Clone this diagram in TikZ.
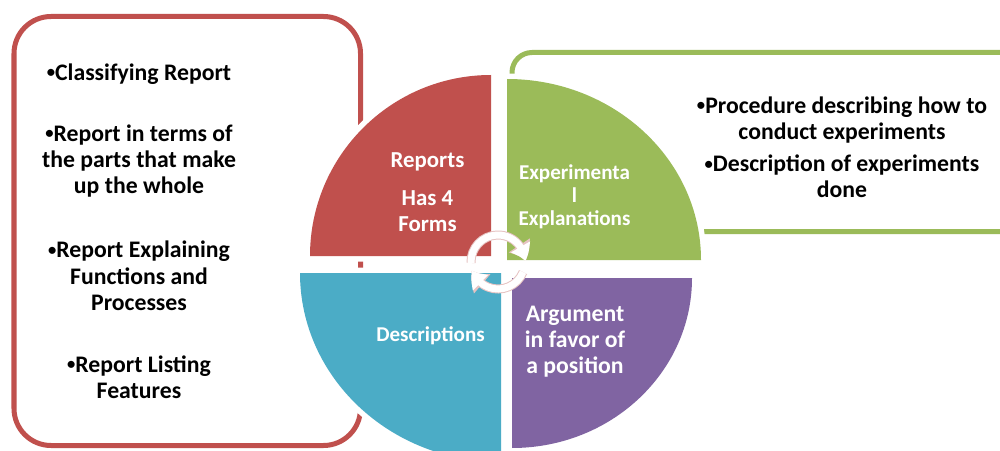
\documentclass[tikz,border=0pt]{standalone}
\usepackage{fontspec}
\usepackage{graphicx}
\setmainfont{Carlito}
\usetikzlibrary{arrows.meta,bending,positioning}
\definecolor{repred}{HTML}{C0504D}
\definecolor{repgreen}{HTML}{9BBB59}
\definecolor{repblue}{HTML}{4BACC6}
\definecolor{reppurple}{HTML}{8064A2}
\definecolor{arrowpink}{HTML}{E6C3C2}
\newcommand{\bul}{\raisebox{0.1em}{\scalebox{0.7}{•}}}

\begin{document}
\begin{tikzpicture}[
    panel/.style={rounded corners=#1, line width=0.1cm},
    quad/.style={fill=#1, preaction={draw=white, line width=0.22cm}},
    boxtext/.style={align=center, font=\fontsize{13.5}{15}\selectfont\bfseries},
    qtext/.style 2 args={align=center, text=white, font=\fontsize{#1}{#2}\selectfont\bfseries},
    roundarrow/.style={white, line width=0.14cm, -{Triangle[width=0.42cm,length=0.3cm,bend]},
        preaction={draw=arrowpink, line width=0.18cm, -{Triangle[width=0.48cm,length=0.34cm,bend]}}}
]
\clip (0,0) rectangle (20,9);
% Panels behind the circle
\draw[panel=0.74cm, repred] (0.28,0.09) rectangle (7.21,8.67);
\draw[panel=0.4cm, repgreen] (10.24,4.37) rectangle (20.5,7.95);

% Four quarters of the circle
\fill[quad=repred] (9.82,3.88) -- ++(-3.62,0) arc[start angle=180, end angle=90, radius=3.62] -- cycle;
\fill[quad=repgreen] (10.14,3.80) -- ++(0,3.62) arc[start angle=90, end angle=0, x radius=3.88, y radius=3.62] -- cycle;
\fill[quad=repblue] (10.02,3.54) -- ++(0,-3.78) arc[start angle=270, end angle=180, x radius=4.02, y radius=3.78] -- cycle;
\fill[quad=reppurple] (10.24,3.44) -- ++(3.6,0) arc[start angle=0, end angle=-90, x radius=3.6, y radius=3.4] -- cycle;

% Labels of the quarters
\node[qtext={13pt}{14.6pt}] (reports) at (8.55,5.77) {Reports};
\node[qtext={13pt}{14.6pt}] (forms) at (8.55,4.78) {Has 4\\Forms};
\node[qtext={12pt}{13.2pt}] (expl) at (11.49,5.06) {Experimenta\\l\\Explanations};
\node[qtext={12pt}{14pt}] (desc) at (8.61,2.29) {Descriptions};
\node[qtext={13.5pt}{14.9pt}] (arg) at (11.5,2.17) {Argument\\in favor of\\a position};

% Items of the left panel
\node[boxtext] (classify) at (2.78,7.52) {\bul Classifying Report};
\node[boxtext] (parts) at (2.78,5.78) {\bul Report in terms of\\the parts that make\\up the whole};
\node[boxtext] (funcs) at (2.78,3.48) {\bul Report Explaining\\Functions and\\Processes};
\node[boxtext] (listing) at (2.78,1.46) {\bul Report Listing\\Features};

% Items of the right panel
\node[boxtext] (procedure) at (16.84,6.6) {\bul Procedure describing how to\\conduct experiments};
\node[boxtext] (done) at (16.84,5.47) {\bul Description of experiments\\done};

% Turning arrows in the middle
\coordinate (hub) at (9.96,3.76);
\draw[roundarrow] (hub) ++(182:0.54) arc[start angle=182, end angle=2, radius=0.54];
\draw[roundarrow] (hub) ++(-22:0.54) arc[start angle=-22, end angle=-162, radius=0.54];
\end{tikzpicture}
\end{document}
